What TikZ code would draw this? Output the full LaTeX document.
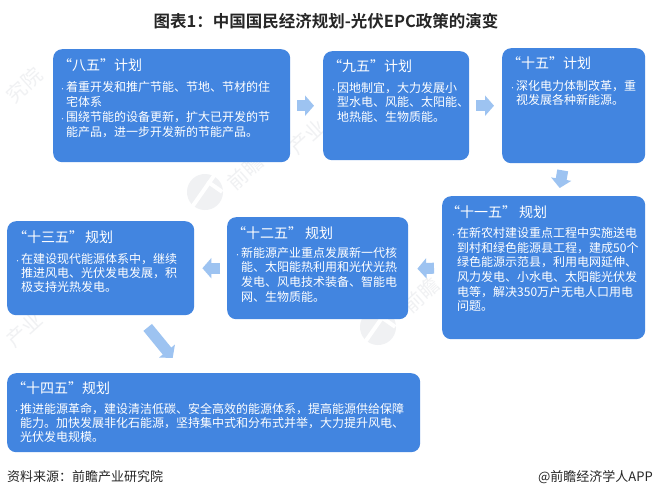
\documentclass[tikz,border=0pt]{standalone}
\usepackage{fontspec}
\setmainfont{Noto Sans CJK SC}[BoldFont={* Bold}]
\usetikzlibrary{arrows.meta,calc}
\definecolor{boxblue}{HTML}{4285E0}
\definecolor{arrowblue}{HTML}{9DC3F1}
\definecolor{wmgray}{HTML}{F0F1F3}
\newcommand{\bul}{\makebox[0pt][r]{\fontsize{6}{6}\selectfont •\hspace{0.5pt}}}
\newcommand{\logomark}[1]{%
  \begin{scope}[shift={#1},rotate=-35]
    \fill[wmgray] (0,0) circle (18pt);
    \fill[white] (-4,-19) rectangle (0,19);
    \fill[white] (-4,-12) rectangle (14,-8);
  \end{scope}}
\newcommand{\pitch}[1]{\fontsize{12}{#1}\selectfont}
\tikzset{
  x=1pt,y=-1pt,
  planbox/.style={fill=boxblue,draw=none,rounded corners=9pt,inner sep=0pt,anchor=north west},
  head/.style={anchor=west,text=white,inner sep=0pt,font=\fontsize{14}{16}\selectfont},
  body/.style={anchor=north west,text=white,inner sep=0pt,align=left},
  conn/.style={draw=arrowblue,line width=11pt,-{Triangle[length=9pt,width=20pt,fill=arrowblue]}},
  wm/.style={text=wmgray,rotate=42,font=\fontsize{20}{20}\selectfont,inner sep=0pt},
  plain/.style={inner sep=0pt,text=black!85,font=\fontsize{13}{15}\selectfont}
}
\begin{document}
\begin{tikzpicture}
\useasboundingbox (0,0) rectangle (653,498);
\fill[white] (0,0) rectangle (653,498);
% watermarks
\node[wm] (w1) at (24,85) {究院};
\node[wm] (w2) at (245,172) {前瞻};
\node[wm] (w3) at (421,295) {前瞻};
\node[wm] (w4) at (24,330) {产业};
\node[wm] (w5) at (307,137) {产业};
\logomark{(205,192)}
\logomark{(378,327)}
% boxes
\node[planbox,minimum width=237pt,minimum height=113pt] (b1) at (53,49) {};
\node[planbox,minimum width=146pt,minimum height=109pt] (b2) at (323,51) {};
\node[planbox,minimum width=143pt,minimum height=115pt] (b3) at (502,48) {};
\node[planbox,minimum width=203pt,minimum height=143pt] (b4) at (442,196) {};
\node[planbox,minimum width=181pt,minimum height=102pt] (b5) at (227,217) {};
\node[planbox,minimum width=187pt,minimum height=94pt] (b6) at (7,221) {};
\node[planbox,minimum width=413pt,minimum height=79pt] (b7) at (7,373) {};
% arrows
\draw[conn] ($(b1.east)+(7,0)$) -- ($(b2.west)+(-9,0)$);
\draw[conn] ($(b2.east)+(7,0)$) -- ($(b3.west)+(-8,0)$);
\draw[conn] ($(b3.south)+(-11,7)$) -- ($(b4.north)+(16,-8)$);
\draw[conn] ($(b4.west)+(-8,0.5)$) -- ($(b5.east)+(9,0.5)$);
\draw[conn] ($(b5.west)+(-7,0)$) -- ($(b6.east)+(8,0)$);
\draw[conn] ($(b6.south)+(47,12)$) -- ($(b7.north)+(-41,-15)$);
% headings
\node[head] (h1) at (58,65) {“八五”计划};
\node[head] (h2) at (328,66) {“九五”计划};
\node[head] (h3) at (507,63) {“十五”计划};
\node[head] (h4) at (446,212) {“十一五”\hspace{3pt}规划};
\node[head] (h5) at (232,233) {“十二五”\hspace{3pt}规划};
\node[head] (h6) at (13,237) {“十三五”\hspace{2pt}规划};
\node[head] (h7) at (12,388) {“十四五”规划};
% bodies
\node[body,font=\pitch{15}] (t1) at (66,81) {\bul 着重开发和推广节能、节地、节材的住\\宅体系\\\bul 围绕节能的设备更新，扩大已开发的节\\能产品，进一步开发新的节能产品。};
\node[body,font=\pitch{14.5}] (t2) at (337,82) {\bul 因地制宜，大力发展小\\型水电、风能、太阳能、\\地热能、生物质能。};
\node[body,font=\pitch{14.5}] (t3) at (516,80) {\bul 深化电力体制改革，重\\视发展各种新能源。};
\node[body,font=\pitch{14.7}] (t4) at (457,227) {\bul 在新农村建设重点工程中实施送电\\到村和绿色能源县工程，建成50个\\绿色能源示范县，利用电网延伸、\\风力发电、小水电、太阳能光伏发\\电等，解决350万户无电人口用电\\问题。};
\node[body,font=\pitch{14.6}] (t5) at (241,247) {\bul 新能源产业重点发展新一代核\\能、太阳能热利用和光伏光热\\发电、风电技术装备、智能电\\网、生物质能。};
\node[body,font=\pitch{14.2}] (t6) at (21,253) {\bul 在建设现代能源体系中，继续\\推进风电、光伏发电发展，积\\极支持光热发电。};
\node[body,font=\pitch{14}] (t7) at (20,403) {\bul 推进能源革命，建设清洁低碳、安全高效的能源体系，提高能源供给保障\\能力。加快发展非化石能源，坚持集中式和分布式并举，大力提升风电、\\光伏发电规模。};
% title and footer
\node[inner sep=0pt,font=\bfseries\fontsize{16.5}{19}\selectfont,text=black!85] (title) at (326,21) {图表1：中国国民经济规划-光伏EPC政策的演变};
\node[plain,anchor=west] (src) at (7,477) {资料来源：前瞻产业研究院};
\node[plain,anchor=east] (app) at (653,477) {@前瞻经济学人APP};
\end{tikzpicture}
\end{document}
